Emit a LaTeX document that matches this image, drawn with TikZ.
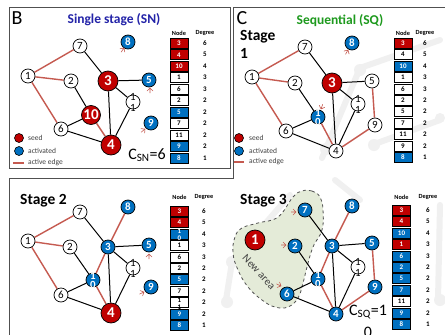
\documentclass[tikz,border=0pt]{standalone}
\usepackage{fontspec}
\setmainfont{Carlito}
\usetikzlibrary{backgrounds}
\definecolor{nred}{HTML}{C00000}
\definecolor{nblue}{HTML}{0070C0}
\definecolor{ered}{HTML}{C55A50}
\definecolor{ttlblue}{HTML}{2323A8}
\definecolor{ttlgreen}{HTML}{1E9A1E}
\definecolor{areagreen}{HTML}{E4EBD8}
\definecolor{frm}{HTML}{505050}
\definecolor{legtxt}{HTML}{404040}
\definecolor{wmark}{HTML}{F0F0F0}
\newcommand\nwrap[4]{\makebox[0pt]{\smash{\raisebox{#3}{#1}}}\makebox[0pt]{\smash{\raisebox{#4}{#2}}}}
\newcommand\rmark[3]{\draw[ered,line width=0.6pt,shift={(#1,#2)},rotate=#3] (-5,0)--(0,0) (-3,-3)--(0,0)--(-3,3);}
\newcommand\degtab[6]{%
  \node[hdr] (#1h1) at (#2,#4) {Node};
  \node[hdr] (#1h2) at (#3,#4) {Degree};
  \foreach \lab/\fc/\tc/\dg [count=\i] in {#6} {
    \node[cell,fill=\fc,text=\tc] (#1c\i) at (#2,{#5+(\i-1)*11.45}) {\lab};
    \node[dtext] (#1d\i) at (#3,{#5+(\i-1)*11.45}) {\dg};
  }%
}
\tikzset{
  wn/.style={circle,draw=black,fill=white,line width=0.7pt,minimum size=14pt,inner sep=0pt,font=\fontsize{11}{11}\selectfont},
  bn/.style={wn,fill=nblue,text=white,font=\fontsize{11}{11}\selectfont\bfseries},
  rn/.style={wn,fill=nred,text=white,minimum size=20pt,font=\fontsize{15}{15}\selectfont\bfseries},
  bk/.style={black,line width=1pt},
  rd/.style={ered,line width=1.4pt},
  frame/.style={draw=frm,line width=1pt},
  hdr/.style={inner sep=0pt,font=\fontsize{6.3}{6.3}\selectfont\bfseries},
  cell/.style={draw=black,line width=0.6pt,minimum width=18pt,minimum height=10pt,inner sep=0pt,font=\fontsize{7}{7}\selectfont\bfseries},
  dtext/.style={inner sep=0pt,font=\fontsize{7}{7}\selectfont\bfseries},
  legdot/.style={circle,draw=black,line width=0.6pt,minimum size=9pt,inner sep=0pt},
  legt/.style={anchor=west,inner sep=0pt,text=legtxt,font=\fontsize{7.5}{7.5}\selectfont},
  ttl/.style={inner sep=0pt,font=\fontsize{13.5}{13.5}\selectfont\bfseries},
  letter/.style={inner sep=0pt,font=\fontsize{20}{20}\selectfont},
  stg/.style={anchor=west,inner sep=0pt,font=\fontsize{15.5}{15.5}\selectfont\bfseries},
  big/.style={inner sep=0pt,font=\fontsize{16}{16}\selectfont},
  wm/.style={wmark,line width=6pt,line cap=round},
}
\begin{document}
\begin{tikzpicture}[x=1pt,y=-1pt]
\useasboundingbox (0,0) rectangle (445,335);
\begin{scope}[on background layer]
\fill[white] (0,0) rectangle (445,335);
% faint watermark
\draw[wm] (360,68) -- (322,158) (360,68) -- (440,40) (372,145) -- (440,120);
\fill[wmark] (360,70) circle (6) (374,145) circle (6) (326,149) circle (6) (440,118) circle (5);
\draw[wm] (232,262) -- (226,300) (232,262) -- (290,195) (440,205) -- (438,300) (335,180) -- (360,200);
\fill[wmark] (232,262) circle (6) (227,302) circle (6) (440,300) circle (6);
\end{scope}
% ---------- frames
\draw[frame] (9,7) rectangle (230,168);
\draw[frame] (447,7) -- (233,7) -- (233,178) -- (9,178) -- (9,340);
% ================= Panel B
\node[letter] (bB) at (17,18) {B};
\node[ttl,text=ttlblue] (bT) at (114,20) {Single stage (SN)};
\node[wn] (b7) at (80,46) {7};
\node[bn] (b8) at (128,42) {8};
\node[wn] (b1) at (28,76) {1};
\node[wn] (b2) at (71,81) {2};
\node[rn] (b3) at (108,81) {3};
\node[bn] (b5) at (149,80) {5};
\node[wn] (b11) at (133,102) {\nwrap{1}{1}{1.5pt}{-9.5pt}};
\node[rn,minimum size=19pt] (b10) at (91,115) {10};
\node[wn] (b6) at (61,129) {6};
\node[bn] (b9) at (151,123) {9};
\node[rn] (b4) at (111,145) {4};
\begin{scope}[on background layer]
\draw[rd] (b1)--(b7) (b1)--(b2) (b1)--(b6) (b10)--(b4);
\draw[bk] (b7)--(b3) (b2)--(b10) (b3)--(b5) (b3)--(b11) (b3)--(b4) (b11)--(b4) (b10)--(b6) (b6)--(b4);
\end{scope}
\rmark{124}{48}{55}
\rmark{150}{88}{90}
\rmark{145}{129}{40}
\node[legdot,fill=nred] (bl1) at (19,138) {};
\node[legt] (bl1t) at (28,138) {seed};
\node[legdot,fill=nblue] (bl2) at (19,151) {};
\node[legt] (bl2t) at (28,151) {activated};
\coordinate (bl3a) at (13,163); \coordinate (bl3b) at (24,163);
\draw[rd] (bl3a)--(bl3b);
\node[legt] (bl3t) at (28,163) {active edge};
\node[big] (bcsn) at (147,155) {C\textsubscript{SN}=6};
\degtab{bt}{179}{205}{33}{43.3}{3/nred/white/6,4/nred/white/5,10/nred/white/4,1/white/black/3,6/white/black/3,2/white/black/2,5/nblue/white/2,7/white/black/2,11/white/black/2,9/nblue/white/2,8/nblue/white/1}
% ================= Panel C
\node[letter] (cC) at (242,18) {C};
\node[ttl,text=ttlgreen] (cT) at (340,21) {Sequential (SQ)};
\node[stg] (cS) at (240,37) {Stage};
\node[stg] (cS1) at (240,53) {1};
\node[wn] (c7) at (305,47) {7};
\node[bn] (c8) at (352,43) {8};
\node[wn] (c1) at (252,77) {1};
\node[wn] (c2) at (295,83) {2};
\node[rn] (c3) at (332,83) {3};
\node[wn] (c5) at (372,81) {5};
\node[wn] (c11) at (358,104) {\nwrap{1}{1}{1.5pt}{-9.5pt}};
\node[bn] (c10) at (318,117) {\nwrap{1}{0}{1pt}{-8.5pt}};
\node[wn] (c9) at (375,125) {9};
\node[wn] (c6) at (286,131) {6};
\node[wn] (c4) at (336,151) {4};
\begin{scope}[on background layer]
\draw[rd] (c1)--(c7) (c1)--(c2) (c1)--(c6) (c10)--(c4) (c5)--(c9) (c9)--(c4);
\draw[bk] (c7)--(c3) (c2)--(c10) (c3)--(c5) (c3)--(c11) (c3)--(c4) (c11)--(c4) (c10)--(c6) (c6)--(c4);
\end{scope}
\rmark{348}{50}{60}
\rmark{321}{109}{-110}
\node[legdot,fill=nred] (cl1) at (239,138) {};
\node[legdot,fill=nblue] (cl2) at (239,151) {};
\node[legt] (cl1t) at (249,138) {seed};
\node[legt] (cl2t) at (249,151) {activated};
\coordinate (cl3a) at (234,162); \coordinate (cl3b) at (244,162);
\draw[rd] (cl3a)--(cl3b);
\node[legt] (cl3t) at (249,162) {active edge};
\degtab{ct}{403}{425}{33}{43}{3/nred/white/6,4/white/black/5,10/nblue/white/4,1/white/black/3,6/white/black/3,2/white/black/2,5/white/black/2,7/white/black/2,11/white/black/2,9/white/black/2,8/nblue/white/1}
% ================= Stage 2
\node[stg] (sS) at (20,201) {Stage 2};
\node[wn] (s7) at (80,212) {7};
\node[bn] (s8) at (128,207) {8};
\node[wn] (s1) at (28,241) {1};
\node[wn] (s2) at (70,247) {2};
\node[bn] (s3) at (108,247) {3};
\node[bn] (s5) at (149,245) {5};
\node[wn] (s11) at (133,268) {\nwrap{1}{1}{1.5pt}{-9.5pt}};
\node[bn] (s10) at (93,280) {\nwrap{1}{0}{1pt}{-8.5pt}};
\node[bn] (s9) at (151,287) {9};
\node[wn] (s6) at (61,295) {6};
\node[rn] (s4) at (111,313) {4};
\begin{scope}[on background layer]
\draw[rd] (s1)--(s7) (s1)--(s2) (s1)--(s6) (s8)--(s3) (s3)--(s10) (s10)--(s4);
\draw[bk] (s7)--(s3) (s2)--(s10) (s3)--(s5) (s3)--(s11) (s3)--(s4) (s11)--(s4) (s10)--(s6) (s6)--(s4);
\end{scope}
\rmark{149}{254}{90}
\rmark{144}{292}{25}
\degtab{st}{179.5}{204}{197}{211}{3/nred/white/6,4/nred/white/5,\nwrap{1}{0}{0.5pt}{-7pt}/nblue/white/4,1/white/black/3,6/white/black/3,2/white/black/2,5/nblue/white/2,7/white/black/2,\nwrap{1}{1}{0.5pt}{-7pt}/white/black/2,9/nblue/white/2,8/nblue/white/1}
% ================= Stage 3
\node[stg] (tS) at (240,201) {Stage 3};
\begin{scope}[on background layer]
\draw[dashed,draw=frm,line width=0.8pt,fill=areagreen] plot[smooth cycle,tension=0.7] coordinates {(302,191) (312,191) (320,197) (323,210) (322,230) (313,247) (307,267) (303,283) (298,298) (288,307) (275,307) (262,300) (248,287) (238,270) (233,253) (235,237) (242,228) (258,223) (278,217) (293,197)};
\end{scope}
\node[bn] (t7) at (305,210) {7};
\node[bn] (t8) at (352,206) {8};
\node[rn] (t1) at (255,240) {1};
\node[bn] (t2) at (295,246) {2};
\node[bn] (t3) at (332,246) {3};
\node[bn] (t5) at (372,243) {5};
\node[wn] (t11) at (358,267) {\nwrap{1}{1}{1.5pt}{-9.5pt}};
\node[bn] (t10) at (318,279) {\nwrap{1}{0}{1pt}{-8.5pt}};
\node[bn] (t9) at (375,287) {9};
\node[bn] (t6) at (287,294) {6};
\node[bn] (t4) at (336,314) {4};
\node[rotate=-47,inner sep=0pt,text=legtxt,font=\fontsize{11}{11}\selectfont] (tNA) at (259,272) {New area};
\begin{scope}[on background layer]
\draw[rd] (t8)--(t3) (t3)--(t10) (t10)--(t4) (t5)--(t9) (t9)--(t4);
\draw[bk] (t7)--(t3) (t2)--(t10) (t3)--(t5) (t3)--(t11) (t3)--(t4) (t11)--(t4) (t10)--(t6) (t6)--(t4);
\end{scope}
\rmark{296}{212}{0}
\rmark{286}{245}{0}
\rmark{281}{286}{-25}
\node[big] (tcsq) at (368,312) {C\textsubscript{SQ}=1};
\node[big] (tcsq0) at (368,332) {0};
\degtab{tt}{401.5}{428}{197}{210}{3/nred/white/6,4/nred/white/5,10/nblue/white/4,1/nred/white/3,6/nblue/white/3,2/nblue/white/2,5/nblue/white/2,7/nblue/white/2,11/white/black/2,9/nblue/white/2,8/nblue/white/1}
\end{tikzpicture}
\end{document}
